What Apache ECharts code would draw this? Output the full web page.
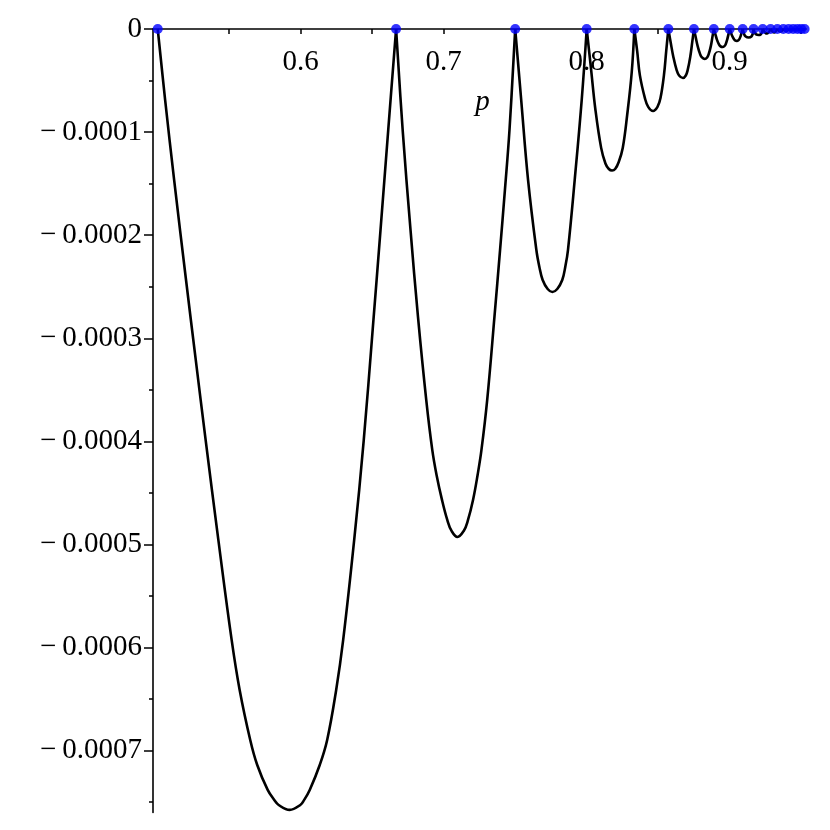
<!DOCTYPE html>
<html>
<head>
<meta charset="utf-8">
<script src="https://cdn.jsdelivr.net/npm/echarts@6/dist/echarts.min.js"></script>
<style>
html,body{margin:0;padding:0;background:#fff;}
#chart{width:830px;height:830px;}
</style>
</head>
<body>
<div id="chart"></div>
<script>
// ---- data ----
const arc1 = [[0.5,0],[0.5052,-0.0000689],[0.5115,-0.0001465],[0.5198,-0.0002435],[0.5266,-0.000321],[0.5335,-0.0003986],[0.5424,-0.0004956],[0.5517,-0.0005926],[0.5573,-0.0006411],[0.5647,-0.0006896],[0.5696,-0.0007139],[0.5769,-0.0007381],[0.5815,-0.0007478],[0.5846,-0.0007527],[0.5923,-0.0007575],[0.5997,-0.0007527],[0.6024,-0.0007478],[0.6063,-0.0007381],[0.6133,-0.0007139],[0.6185,-0.0006896],[0.6248,-0.0006411],[0.6297,-0.0005926],[0.6374,-0.0004956],[0.6441,-0.0003986],[0.6503,-0.000292],[0.6558,-0.000195],[0.6612,-0.000098],[0.6667,0]];
const arc2 = [[0.6667,0],[0.6713,-0.000098],[0.6768,-0.000195],[0.6820,-0.000279],[0.6878,-0.00036],[0.6920,-0.0004083],[0.6950,-0.0004326],[0.6988,-0.0004568],[0.7025,-0.0004762],[0.7055,-0.0004869],[0.7096,-0.0004927],[0.7140,-0.0004869],[0.7168,-0.0004772],[0.7205,-0.0004568],[0.7237,-0.0004326],[0.7264,-0.0004083],[0.7304,-0.00036],[0.7355,-0.000279],[0.7394,-0.0002144],[0.7428,-0.0001562],[0.7460,-0.000098],[0.75,0]];
const arc3 = [[0.75,0],[0.7542,-0.0000689],[0.7590,-0.0001465],[0.7648,-0.0002144],[0.7669,-0.0002308],[0.7692,-0.0002435],[0.7727,-0.0002522],[0.7760,-0.0002551],[0.7794,-0.0002522],[0.7829,-0.0002435],[0.7850,-0.0002308],[0.7869,-0.0002144],[0.7916,-0.0001465],[0.7965,-0.0000689],[0.8,0]];
const arc4 = [[0.8,0],[0.8029,-0.000037],[0.8061,-0.0000783],[0.8101,-0.0001153],[0.8131,-0.0001304],[0.8155,-0.0001358],[0.8177,-0.0001372],[0.8199,-0.0001358],[0.8224,-0.000129],[0.8252,-0.0001154],[0.8283,-0.0000834],[0.8315,-0.0000417],[0.8333,0]];
const arc5 = [[0.8333,0],[0.8353,-0.0000215],[0.8372,-0.000045],[0.8407,-0.000067],[0.8430,-0.0000755],[0.8464,-0.0000795],[0.8495,-0.0000755],[0.8516,-0.000067],[0.8540,-0.000045],[0.8556,-0.0000215],[0.8571,0]];
const arc6 = [[0.8571,0],[0.8587,-0.0000128],[0.8606,-0.0000271],[0.8629,-0.0000399],[0.8646,-0.0000451],[0.8673,-0.0000475],[0.8693,-0.0000451],[0.8706,-0.0000399],[0.8724,-0.0000271],[0.8738,-0.0000128],[0.875,0]];
const arc7 = [[0.875,0],[0.8762,-0.0000079],[0.8776,-0.0000166],[0.8793,-0.0000244],[0.8806,-0.0000276],[0.8826,-0.0000291],[0.8842,-0.0000276],[0.8853,-0.0000244],[0.8868,-0.0000166],[0.8879,-0.0000079],[0.8889,0]];
const arc8 = [[0.8889,0],[0.8899,-0.0000047],[0.8910,-0.00001],[0.8924,-0.0000147],[0.8934,-0.0000166],[0.8950,-0.0000175],[0.8963,-0.0000166],[0.8972,-0.0000147],[0.8983,-0.00001],[0.8992,-0.0000047],[0.9,0]];
const arc9 = [[0.9,0],[0.9008,-0.0000031],[0.9017,-0.0000066],[0.9029,-0.0000097],[0.9037,-0.000011],[0.9050,-0.0000116],[0.9061,-0.000011],[0.9068,-0.0000097],[0.9077,-0.0000066],[0.9084,-0.0000031],[0.9091,0]];
const arc10 = [[0.9091,0],[0.9100,-0.0000047],[0.9112,-0.0000073],[0.9133,-0.0000082],[0.9152,-0.0000073],[0.9161,-0.0000047],[0.9167,0]];
const arc11 = [[0.9167,0],[0.9174,-0.0000033],[0.9185,-0.0000052],[0.9202,-0.0000058],[0.9217,-0.0000052],[0.9226,-0.0000033],[0.9231,0]];
const arc12 = [[0.9231,0],[0.9260,-0.0000044],[0.9286,0]];
const arc13 = [[0.9286,0],[0.9311,-0.0000034],[0.9333,0]];
const arc14 = [[0.9333,0],[0.9355,-0.0000026],[0.9375,0]];
const arc15 = [[0.9375,0],[0.9395,-0.000002],[0.9412,0]];
const arc16 = [[0.9412,0],[0.9429,-0.0000016],[0.9444,0]];
const arc17 = [[0.9444,0],[0.9460,-0.0000013],[0.9474,0]];
const arc18 = [[0.9474,0],[0.9488,-0.000001],[0.95,0]];
const arc19 = [[0.95,0],[0.9513,-0.0000008],[0.9524,0]];
const arcs = [arc1,arc2,arc3,arc4,arc5,arc6,arc7,arc8,arc9,arc10,arc11,arc12,arc13,arc14,arc15,arc16,arc17,arc18,arc19];

const dotP = [0.5,0.6667,0.75,0.8,0.8333,0.8571,0.875,0.8889,0.9,0.9091,0.9167,0.9231,0.9286,0.9333,0.9375,0.9412,0.9444,0.9474,0.95,0.9524];
const dotV = [0,0,0,0,0,0,0,0,0,0,0,0,0,0,0,0,0,0,0,0];

const xTickLabels = [0.6,0.7,0.8,0.9];
const xTickMarks = [0.5,0.55,0.6,0.65,0.7,0.75,0.8,0.85,0.9,0.95];
const yTickLabels = [0,-0.0001,-0.0002,-0.0003,-0.0004,-0.0005,-0.0006,-0.0007];
const yMinorTicks = [-0.00005,-0.00015,-0.00025,-0.00035,-0.00045,-0.00055,-0.00065,-0.00075];
const xName = 'p';

// ---- chart ----
const FONT = 'Liberation Serif';
const chart = echarts.init(document.getElementById('chart'), null, {renderer:'canvas'});
const series = arcs.map(a => ({
  type:'line', data:a, smooth:0.4, showSymbol:false, clip:false,
  lineStyle:{color:'#000', width:2.6}, z:2, silent:true
}));
series.push({
  type:'scatter', data: dotP.map((p,i)=>[p,dotV[i]]), symbolSize:10,
  itemStyle:{color:'#0000ff'}, z:5, clip:false, silent:true
});
chart.setOption({
  animation:false,
  backgroundColor:'#fff',
  grid:{left:153, right:23.8, top:29, bottom:17.5, containLabel:false, outerBoundsMode:'none'},
  xAxis:{
    type:'value', min:0.4967, max:0.9535, position:'top',
    axisLine:{show:true, onZero:false, lineStyle:{color:'#000', width:1.6}},
    axisTick:{show:true, inside:true, length:5, customValues:xTickMarks, lineStyle:{color:'#000', width:1.5}},
    axisLabel:{inside:true, customValues:xTickLabels, margin:19, color:'#000', fontFamily:FONT, fontSize:29,
      formatter:v=>String(v)},
    splitLine:{show:false},
    name:xName, nameLocation:'middle', nameGap:-88,
    nameTextStyle:{fontFamily:FONT, fontStyle:'italic', fontSize:29, color:'#000', padding:[0,0,0,6]}
  },
  yAxis:[{
    type:'value', min:-0.00076, max:0, position:'left',
    axisLine:{show:true, onZero:false, lineStyle:{color:'#000', width:1.6}},
    axisTick:{show:true, length:9, customValues:yTickLabels, lineStyle:{color:'#000', width:1.5}},
    axisLabel:{customValues:yTickLabels, margin:11, color:'#000', fontFamily:FONT, fontSize:29,
      formatter:v=> v===0 ? '0' : '\u2212\u2009' + (-v).toFixed(4)},
    splitLine:{show:false}
  },{
    type:'value', min:-0.00076, max:0, position:'left',
    axisLine:{show:false, onZero:false},
    axisTick:{show:true, length:4, customValues:yMinorTicks, lineStyle:{color:'#000', width:1.5}},
    axisLabel:{show:false},
    splitLine:{show:false}
  }],
  series:series
});
</script>
</body>
</html>
